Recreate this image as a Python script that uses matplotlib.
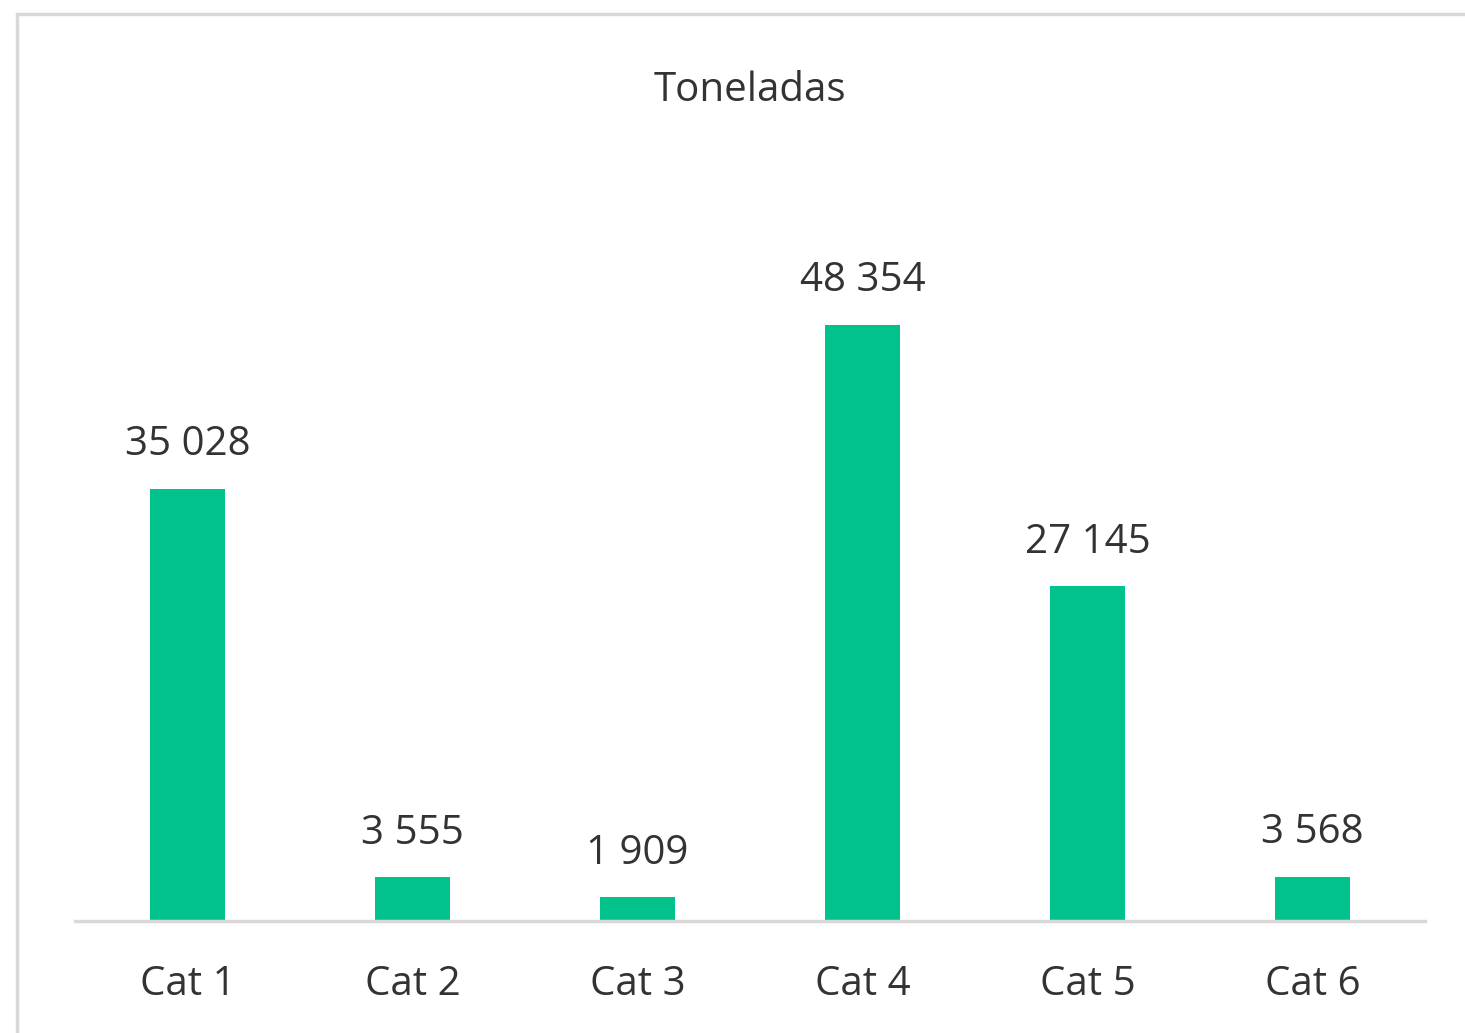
import matplotlib.pyplot as plt
from matplotlib.patches import Rectangle

categories = ['Cat 1', 'Cat 2', 'Cat 3', 'Cat 4', 'Cat 5', 'Cat 6']
values = [35028, 3555, 1909, 48354, 27145, 3568]
title = 'Toneladas'

plt.rcParams['font.family'] = ['Open Sans', 'DejaVu Sans']
txt = '#333333'
fs = 29

fig = plt.figure(figsize=(14.65, 10.33), dpi=100)
# outer chart border (light grey), running off right/bottom edges
fig.patches.append(Rectangle((17 / 1465, -0.01), 1.2, 1 - 14 / 1033 + 0.01,
                             transform=fig.transFigure, fill=False,
                             edgecolor='#d9d9d9', linewidth=2.5))

ax = fig.add_axes([75 / 1465, 1 - 921 / 1033, 1350 / 1465, 740 / 1033])
x = range(len(categories))
ax.bar(x, values, width=0.333, color='#00c28a')
ax.set_xlim(-0.5, len(categories) - 0.5)
ax.set_ylim(0, 60000)

for xi, v in zip(x, values):
    lab = f'{v:,}'.replace(',', ' ')
    ax.annotate(lab, (xi, v), xytext=(0, 17), textcoords='offset points',
                ha='center', va='bottom', fontsize=fs, color=txt)

ax.set_xticks(list(x))
ax.set_xticklabels(categories, fontsize=fs, color=txt)
ax.tick_params(axis='x', length=0, pad=31)
ax.set_yticks([])
for s in ['left', 'right', 'top']:
    ax.spines[s].set_visible(False)
ax.spines['bottom'].set_color('#d9d9d9')
ax.spines['bottom'].set_linewidth(2.5)

fig.text(750 / 1465, 1 - 91 / 1033, title, ha='center', va='center',
         fontsize=fs, color=txt)

fig.savefig('out.png', dpi=100)
